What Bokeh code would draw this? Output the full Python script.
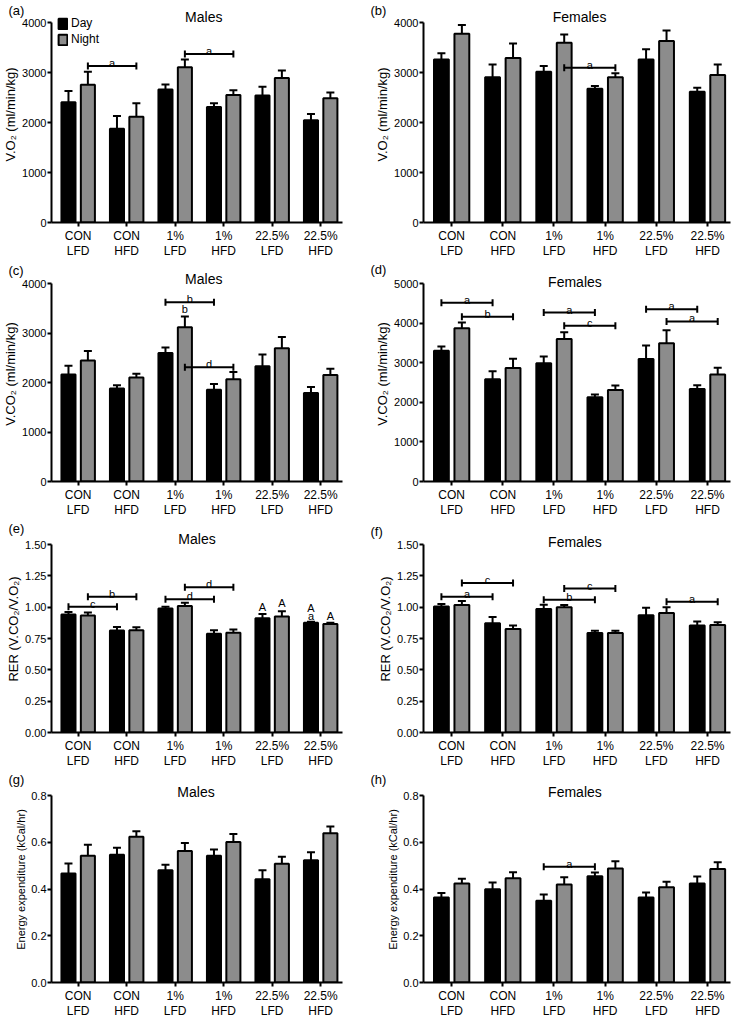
from bokeh.plotting import figure
from bokeh.models import (Range1d, FixedTicker, NumeralTickFormatter, Legend, LegendItem,
                          ColumnDataSource, Whisker, TeeHead, Title)
from bokeh.layouts import gridplot
from bokeh.embed import file_html
from bokeh.resources import INLINE
from bokeh.core.properties import value

FONT = "Liberation Sans"

groups = ["CON\nLFD", "CON\nHFD", "1%\nLFD", "1%\nHFD", "22.5%\nLFD", "22.5%\nHFD"]
series = ["Day", "Night"]

# (a) Males V.O2
vo2_m_day = [2406, 1877, 2658, 2310, 2542, 2045]
vo2_m_day_err = [226, 252, 103, 77, 174, 123]
vo2_m_night = [2755, 2116, 3103, 2548, 2890, 2484]
vo2_m_night_err = [258, 271, 155, 97, 149, 116]
# (b) Females V.O2
vo2_f_day = [3258, 2903, 3013, 2677, 3258, 2613]
vo2_f_day_err = [129, 258, 116, 52, 207, 84]
vo2_f_night = [3774, 3290, 3594, 2903, 3632, 2948]
vo2_f_night_err = [174, 291, 167, 84, 207, 213]
# (c) Males V.CO2
vco2_m_day = [2160, 1878, 2596, 1853, 2327, 1788]
vco2_m_day_err = [180, 64, 109, 115, 237, 122]
vco2_m_night = [2442, 2103, 3115, 2064, 2692, 2154]
vco2_m_night_err = [193, 76, 218, 148, 225, 122]
# (d) Females V.CO2
vco2_f_day = [3300, 2583, 2983, 2125, 3092, 2333]
vco2_f_day_err = [108, 200, 175, 75, 341, 100]
vco2_f_night = [3867, 2867, 3600, 2308, 3492, 2700]
vco2_f_night_err = [150, 233, 167, 117, 325, 175]
# (e) Males RER
rer_m_day = [0.941, 0.814, 0.990, 0.788, 0.911, 0.875]
rer_m_day_err = [0.021, 0.028, 0.013, 0.028, 0.035, 0.008]
rer_m_night = [0.934, 0.816, 1.010, 0.796, 0.926, 0.865]
rer_m_night_err = [0.023, 0.023, 0.026, 0.025, 0.041, 0.010]
# (f) Females RER
rer_f_day = [1.005, 0.872, 0.985, 0.793, 0.936, 0.854]
rer_f_day_err = [0.021, 0.049, 0.035, 0.018, 0.059, 0.031]
rer_f_night = [1.018, 0.826, 1.000, 0.793, 0.954, 0.857]
rer_f_night_err = [0.031, 0.028, 0.018, 0.018, 0.046, 0.023]
# (g) Males energy expenditure
ee_m_day = [0.466, 0.547, 0.480, 0.542, 0.442, 0.523]
ee_m_day_err = [0.043, 0.030, 0.024, 0.027, 0.038, 0.034]
ee_m_night = [0.542, 0.623, 0.563, 0.601, 0.508, 0.639]
ee_m_night_err = [0.047, 0.024, 0.034, 0.034, 0.030, 0.028]
# (h) Females energy expenditure
ee_f_day = [0.364, 0.399, 0.350, 0.455, 0.364, 0.423]
ee_f_day_err = [0.019, 0.029, 0.027, 0.016, 0.021, 0.030]
ee_f_night = [0.423, 0.446, 0.419, 0.488, 0.408, 0.486]
ee_f_night_err = [0.021, 0.026, 0.031, 0.031, 0.023, 0.028]

# significance brackets: (start group, end group, series, level, letter)
brackets_a = [(0, 1, "Night", 3130, "a"), (2, 3, "Night", 3370, "a")]
brackets_b = [(2, 3, "Night", 3097, "a")]
brackets_c = [(2, 3, "Day", 3622, "b"), (2, 3, "Night", 2308, "d")]
brackets_d = [(0, 1, "Day", 4517, "a"), (0, 1, "Night", 4158, "b"),
              (2, 3, "Day", 4267, "a"), (2, 3, "Night", 3933, "c"),
              (4, 5, "Day", 4350, "a"), (4, 5, "Night", 4042, "a")]
brackets_e = [(0, 1, "Day", 1.003, "c"), (0, 1, "Night", 1.084, "b"),
              (2, 3, "Day", 1.064, "d"), (2, 3, "Night", 1.158, "d")]
brackets_f = [(0, 1, "Day", 1.084, "a"), (0, 1, "Night", 1.192, "c"),
              (2, 3, "Day", 1.059, "b"), (2, 3, "Night", 1.148, "c"),
              (4, 5, "Night", 1.043, "a")]
brackets_h = [(2, 3, "Day", 0.495, "a")]
# single letters above bars: (group, series, level, letter)
marks_c = [(2, "Night", 3494, "b")]
marks_e = [(4, "Day", 1.000, "A"), (4, "Night", 1.036, "A"),
           (5, "Day", 0.997, "A"), (5, "Day", 0.931, "a"), (5, "Night", 0.930, "A")]

OFFSET = {"Day": -0.2, "Night": 0.2}
COLOR = {"Day": "#000000", "Night": "#8c8c8c"}
BAR_W = 0.29

W = 367
COL_LEFT = [46, 56]
COL_RIGHT = [25, 4]
ROW_H = [260, 259, 251, 250]
TOP = 6
BOTTOM = 38
ROW_PAD = [16, 17, 19, 19]   # px between frame top and the top tick

panels = [
    dict(tag="(a)", title="Males", ylabel="V.O₂ (ml/min/kg)", ymax=4000, yticks=[0, 1000, 2000, 3000, 4000], fmt="0",
         day=vo2_m_day, day_err=vo2_m_day_err, night=vo2_m_night, night_err=vo2_m_night_err,
         brackets=brackets_a, marks=[], legend=True, row=0, col=0, t_off=6, l_off=11, t_dx=0.14, lab_fs="13px"),
    dict(tag="(b)", title="Females", ylabel="V.O₂ (ml/min/kg)", ymax=4000, yticks=[0, 1000, 2000, 3000, 4000], fmt="0",
         day=vo2_f_day, day_err=vo2_f_day_err, night=vo2_f_night, night_err=vo2_f_night_err,
         brackets=brackets_b, marks=[], legend=False, row=0, col=1, t_off=6, l_off=11, t_dx=0.05, lab_fs="13px"),
    dict(tag="(c)", title="Males", ylabel="V.CO₂ (ml/min/kg)", ymax=4000, yticks=[0, 1000, 2000, 3000, 4000], fmt="0",
         day=vco2_m_day, day_err=vco2_m_day_err, night=vco2_m_night, night_err=vco2_m_night_err,
         brackets=brackets_c, marks=marks_c, legend=False, row=1, col=0, t_off=5, l_off=12, t_dx=0.14, lab_fs="13px"),
    dict(tag="(d)", title="Females", ylabel="V.CO₂ (ml/min/kg)", ymax=5000, yticks=[0, 1000, 2000, 3000, 4000, 5000], fmt="0",
         day=vco2_f_day, day_err=vco2_f_day_err, night=vco2_f_night, night_err=vco2_f_night_err,
         brackets=brackets_d, marks=[], legend=False, row=1, col=1, t_off=2, l_off=15, t_dx=-0.04, lab_fs="13px"),
    dict(tag="(e)", title="Males", ylabel="RER (V.CO₂/V.O₂)", ymax=1.5, yticks=[0, 0.25, 0.5, 0.75, 1.0, 1.25, 1.5], fmt="0.00",
         day=rer_m_day, day_err=rer_m_day_err, night=rer_m_night, night_err=rer_m_night_err,
         brackets=brackets_e, marks=marks_e, legend=False, row=2, col=0, t_off=6, l_off=16, t_dx=0.0, lab_fs="13px"),
    dict(tag="(f)", title="Females", ylabel="RER (V.CO₂/V.O₂)", ymax=1.5, yticks=[0, 0.25, 0.5, 0.75, 1.0, 1.25, 1.5], fmt="0.00",
         day=rer_f_day, day_err=rer_f_day_err, night=rer_f_night, night_err=rer_f_night_err,
         brackets=brackets_f, marks=[], legend=False, row=2, col=1, t_off=3, l_off=12, t_dx=-0.04, lab_fs="13px"),
    dict(tag="(g)", title="Males", ylabel="Energy expenditure (kCal/hr)", ymax=0.8, yticks=[0, 0.2, 0.4, 0.6, 0.8], fmt="0.0",
         day=ee_m_day, day_err=ee_m_day_err, night=ee_m_night, night_err=ee_m_night_err,
         brackets=[], marks=[], legend=False, row=3, col=0, t_off=4, l_off=16, t_dx=-0.02, lab_fs="11px"),
    dict(tag="(h)", title="Females", ylabel="Energy expenditure (kCal/hr)", ymax=0.8, yticks=[0, 0.2, 0.4, 0.6, 0.8], fmt="0.0",
         day=ee_f_day, day_err=ee_f_day_err, night=ee_f_night, night_err=ee_f_night_err,
         brackets=brackets_h, marks=[], legend=False, row=3, col=1, t_off=4, l_off=16, t_dx=-0.04, lab_fs="11px"),
]

X0, X1 = -0.55, 5.45


def make_panel(cfg):
    r, c = cfg["row"], cfg["col"]
    left, right = COL_LEFT[c], COL_RIGHT[c]
    H = ROW_H[r]
    pad = ROW_PAD[r]
    frame_h = H - TOP - BOTTOM
    plot_h = frame_h - pad
    ymax = cfg["ymax"]
    yend = ymax + pad * ymax / plot_h
    p = figure(width=W, height=H, output_backend="svg", toolbar_location=None,
               x_range=Range1d(X0, X1), y_range=Range1d(0, yend),
               min_border_left=left, min_border_right=right, min_border_top=TOP, min_border_bottom=BOTTOM)
    p.outline_line_color = None
    p.grid.visible = False
    p.background_fill_color = "white"
    p.border_fill_color = "white"

    renderers = {}
    for s in series:
        vals = cfg["day"] if s == "Day" else cfg["night"]
        errs = cfg["day_err"] if s == "Day" else cfg["night_err"]
        src = ColumnDataSource(dict(x=[i + OFFSET[s] for i in range(len(groups))], top=vals,
                                    upper=[v + e for v, e in zip(vals, errs)]))
        renderers[s] = p.vbar(x="x", top="top", bottom=0, width=BAR_W, source=src,
                              fill_color=COLOR[s], line_color="black", line_width=2)
        wh = Whisker(base="x", lower="top", upper="upper", dimension="height", source=src,
                     line_color="black", line_width=2, level="overlay",
                     lower_head=None, upper_head=TeeHead(size=8, line_color="black", line_width=2))
        p.add_layout(wh)

    if cfg["brackets"]:
        b = cfg["brackets"]
        x0 = [g0 + OFFSET[s] for g0, g1, s, y, t in b]
        x1 = [g1 + OFFSET[s] for g0, g1, s, y, t in b]
        bsrc = ColumnDataSource(dict(x0=x0, x1=x1, xm=[(a + bb) / 2 for a, bb in zip(x0, x1)],
                                     y=[y for g0, g1, s, y, t in b], text=[t for g0, g1, s, y, t in b]))
        p.add_layout(Whisker(base="y", lower="x0", upper="x1", dimension="width", source=bsrc,
                             line_color="black", line_width=2, level="overlay",
                             lower_head=TeeHead(size=7, line_color="black", line_width=2),
                             upper_head=TeeHead(size=7, line_color="black", line_width=2)))
        p.text(x="xm", y="y", text="text", source=bsrc, text_align="center", text_baseline="alphabetic",
               y_offset=-3, text_font=value(FONT), text_font_size="11px", text_color="black",
               text_font_style="normal")

    if cfg["marks"]:
        m = cfg["marks"]
        msrc = ColumnDataSource(dict(x=[g + OFFSET[s] for g, s, y, t in m], y=[y for g, s, y, t in m],
                                     text=[t for g, s, y, t in m]))
        p.text(x="x", y="y", text="text", source=msrc, text_align="center", text_baseline="middle",
               text_font=value(FONT), text_font_size="11px", text_color="black", text_font_style="normal")

    # panel title, drawn inside the frame just above the top tick
    tsrc = ColumnDataSource(dict(x=[(X0 + X1) / 2 + cfg["t_dx"]], y=[ymax], text=[cfg["title"]]))
    p.text(x="x", y="y", text="text", source=tsrc, text_align="center", text_baseline="middle",
           y_offset=-cfg["t_off"], text_font=value(FONT), text_font_size="14px", text_color="black",
           text_font_style="normal")

    # panel tag, as a left-aligned title pushed left over the axis area
    l_off = min(cfg["l_off"], pad - 4)
    center_below_frame_top = pad - l_off
    tag = Title(text=cfg["tag"], align="left", offset=-(left - 3), vertical_align="bottom",
                standoff=-2 * (center_below_frame_top + 6), text_font=FONT, text_font_size="13px",
                text_font_style="normal", text_color="black")
    p.add_layout(tag, "above")

    # axes
    for ax in (p.xaxis, p.yaxis):
        ax.axis_line_width = 2
        ax.axis_line_color = "black"
        ax.major_tick_line_width = 2
        ax.major_tick_line_color = "black"
        ax.major_tick_out = 4
        ax.major_tick_in = 0
        ax.minor_tick_line_color = None
        ax.major_label_text_font = FONT
        ax.major_label_text_color = "black"
    p.xaxis.ticker = FixedTicker(ticks=list(range(len(groups))))
    p.xaxis.major_label_overrides = {i: g for i, g in enumerate(groups)}
    p.xaxis.major_label_text_font_size = "12px"
    p.xaxis.major_label_text_line_height = 1.1
    p.xaxis.major_label_standoff = 2
    p.yaxis.bounds = (0, ymax)
    p.yaxis.ticker = FixedTicker(ticks=cfg["yticks"])
    p.yaxis.formatter = NumeralTickFormatter(format=cfg["fmt"])
    p.yaxis.major_label_text_font_size = "11px"
    p.yaxis.major_label_standoff = 1
    p.yaxis.axis_label = cfg["ylabel"]
    p.yaxis.axis_label_text_font = FONT
    p.yaxis.axis_label_text_font_size = cfg["lab_fs"]
    p.yaxis.axis_label_text_font_style = "normal"
    p.yaxis.axis_label_text_color = "black"
    p.yaxis.axis_label_standoff = 1

    if cfg["legend"]:
        leg = Legend(items=[LegendItem(label=s, renderers=[renderers[s]]) for s in series],
                     location=(6, plot_h - 24), orientation="vertical",
                     border_line_color=None, background_fill_alpha=0,
                     label_text_font=FONT, label_text_font_size="12px", label_text_color="black",
                     glyph_width=11, glyph_height=13, label_height=13, spacing=2,
                     padding=0, margin=0, label_standoff=3)
        p.add_layout(leg)
    return p


figs = [make_panel(cfg) for cfg in panels]
grid = gridplot([[figs[0], figs[1]], [figs[2], figs[3]], [figs[4], figs[5]], [figs[6], figs[7]]],
                toolbar_location=None)

with open("out.html", "w") as f:
    f.write(file_html(grid, INLINE))
